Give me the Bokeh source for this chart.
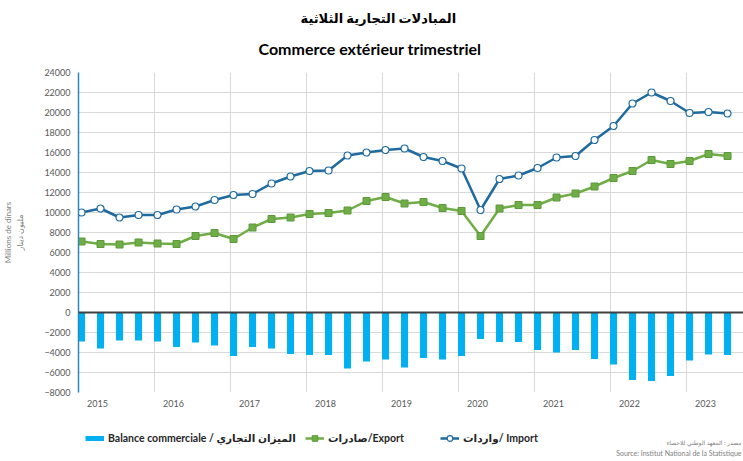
from bokeh.plotting import figure
from bokeh.layouts import column
from bokeh.models import (Range1d, FixedTicker, Legend, LegendItem, Span, Title,
                          Label, ColumnDataSource)
from bokeh.embed import file_html
from bokeh.resources import INLINE

# ---------------- data ----------------
years = ["2015", "2016", "2017", "2018", "2019", "2020", "2021", "2022", "2023"]

imports = [10000, 10400, 9500, 9750, 9750, 10300, 10600, 11250, 11750, 11850,
           12900, 13600, 14150, 14200, 15700, 16000, 16250, 16400, 15550, 15150,
           14400, 10250, 13350, 13700, 14450, 15500, 15650, 17250, 18650, 20900,
           22000, 21150, 19950, 20050, 19900]

exports = [7100, 6850, 6800, 7000, 6900, 6850, 7650, 7950, 7350, 8500,
           9350, 9500, 9850, 9950, 10200, 11150, 11550, 10900, 11050, 10450,
           10150, 7650, 10400, 10750, 10750, 11500, 11900, 12600, 13450, 14150,
           15250, 14850, 15150, 15850, 15650]

balance = [-2900, -3600, -2800, -2800, -2900, -3450, -3000, -3300, -4350, -3450,
           -3600, -4150, -4250, -4250, -5600, -4900, -4700, -5500, -4550, -4700,
           -4350, -2650, -2950, -2950, -3750, -4000, -3750, -4650, -5200, -6750,
           -6850, -6350, -4800, -4200, -4250]

title_ar = "المبادلات التجارية الثلاثية"
title_fr = "Commerce extérieur trimestriel"
lbl_bal = "Balance commerciale / الميزان التجاري"
lbl_exp = "صادرات/Export"
lbl_imp = "واردات/ Import"
ytitle = "Millions de dinars\nمليون دينار"
src_ar = "مصدر : المعهد الوطني للاحصاء"
src_fr = "Source: Institut National de la Statistique"

# ---------------- layout ----------------
W = 743
H_MAIN, H_FOOT = 415, 46
LEFT = 78
FONT = "Lato, 'DejaVu Sans', sans-serif"

C_IMP = "#1F6A9E"
C_EXP = "#70AD47"
C_EXP_EDGE = "#5A9A3A"
C_BAL = "#00B0F0"
C_GRID = "#D9D9D9"
C_TXT = "#595959"

xs = list(range(len(imports)))
src = ColumnDataSource(dict(x=xs, imp=imports, exp=exports, bal=balance))

p = figure(width=W, height=H_MAIN, output_backend="svg", toolbar_location=None,
           x_range=Range1d(-0.16, len(xs) - 0.16), y_range=Range1d(-8000, 24000),
           min_border_left=LEFT, min_border_right=0, min_border_top=72,
           min_border_bottom=H_MAIN - 392)
p.outline_line_color = None
p.background_fill_color = "white"
p.border_fill_color = "white"

# titles (above): first in list is outermost
p.title.text = title_ar
p.title.align = "left"
p.title.offset = 222
p.title.standoff = -6
p.title.text_font = FONT
p.title.text_font_size = "13px"
p.title.text_font_style = "bold"
p.title.text_color = "black"
p.add_layout(Title(text=title_fr, align="left", offset=180, standoff=29,
                   text_font=FONT, text_font_size="16px", text_font_style="bold",
                   text_color="black"), "above")

# axes
year_off = 0.84
p.xaxis.ticker = FixedTicker(ticks=[4 * k + year_off for k in range(len(years))])
p.xaxis.major_label_overrides = {4 * k + year_off: y for k, y in enumerate(years)}
p.xaxis.axis_line_color = None
p.xaxis.major_tick_line_color = None
p.xaxis.minor_tick_line_color = None
p.xaxis.major_tick_out = 0
p.xaxis.major_tick_in = 0
p.xaxis.major_label_standoff = 7
p.xaxis.major_label_text_font = FONT
p.xaxis.major_label_text_font_size = "9px"
p.xaxis.major_label_text_color = C_TXT

p.yaxis.ticker = FixedTicker(ticks=list(range(-8000, 24001, 2000)))
p.yaxis.formatter.use_scientific = False
p.yaxis.axis_line_color = "#2E86C1"
p.yaxis.axis_line_width = 1.5
p.yaxis.major_tick_line_color = None
p.yaxis.minor_tick_line_color = None
p.yaxis.major_tick_out = 0
p.yaxis.major_tick_in = 0
p.yaxis.major_label_standoff = 8
p.yaxis.major_label_text_font = FONT
p.yaxis.major_label_text_font_size = "9px"
p.yaxis.major_label_text_color = C_TXT
p.yaxis.axis_label = ytitle
p.yaxis.axis_label_standoff = 16
p.yaxis.axis_label_text_font = FONT
p.yaxis.axis_label_text_font_size = "8px"
p.yaxis.axis_label_text_font_style = "normal"
p.yaxis.axis_label_text_color = "#7F7F7F"

p.xgrid.ticker = FixedTicker(ticks=[4 * k + year_off + 3 for k in range(len(years) - 1)])
p.xgrid.grid_line_color = C_GRID
p.ygrid.grid_line_color = C_GRID

# glyphs
p.vbar(x="x", top="bal", bottom=0, width=0.37, source=src,
       fill_color=C_BAL, line_color=None)
p.add_layout(Span(location=0, dimension="width", line_color="#404040", line_width=2))
p.line("x", "exp", source=src, line_color=C_EXP, line_width=2.5)
p.scatter("x", "exp", source=src, marker="square", size=7,
          fill_color=C_EXP, line_color=C_EXP_EDGE, line_width=1)
p.line("x", "imp", source=src, line_color=C_IMP, line_width=2.5)
p.scatter("x", "imp", source=src, marker="circle", size=7,
          fill_color="white", line_color=C_IMP, line_width=1.2)

# ---------------- footer: legend + source ----------------
# frame aligned with the chart's frame (x from LEFT to W); series drawn here
# fall outside its (0,1) ranges, so only their legend keys show.
f = figure(width=W, height=H_FOOT, output_backend="svg", toolbar_location=None,
           x_axis_type=None, y_axis_type=None,
           min_border_left=LEFT, min_border_right=0, min_border_top=0,
           min_border_bottom=0,
           x_range=Range1d(0, 1), y_range=Range1d(0, 1))
f.outline_line_color = None
f.grid.visible = False
f.background_fill_color = "white"
f.border_fill_color = "white"

k_bal = f.line("x", "bal", source=src, line_color=C_BAL, line_width=5)
k_exp_l = f.line("x", "exp", source=src, line_color=C_EXP, line_width=2.5)
k_exp_m = f.scatter("x", "exp", source=src, marker="square", size=7,
                    fill_color=C_EXP, line_color=C_EXP_EDGE, line_width=1)
k_imp_l = f.line("x", "imp", source=src, line_color=C_IMP, line_width=2.5)
k_imp_m = f.scatter("x", "imp", source=src, marker="circle", size=7,
                    fill_color="white", line_color=C_IMP, line_width=1.2)

def mk_legend(label, renderers, cx):
    lg = Legend(items=[LegendItem(label=label, renderers=renderers)],
                location=(cx - LEFT, 16), orientation="horizontal",
                padding=0, margin=0, spacing=0, glyph_width=19, glyph_height=14,
                label_height=14, label_standoff=4, border_line_color=None,
                background_fill_alpha=0,
                label_text_font=FONT, label_text_font_size="10.5px",
                label_text_font_style="bold", label_text_color="#262626")
    f.add_layout(lg)

mk_legend(lbl_bal, [k_bal], 85)
mk_legend(lbl_exp, [k_exp_l, k_exp_m], 305)
mk_legend(lbl_imp, [k_imp_l, k_imp_m], 440)

f.add_layout(Label(x=741 - LEFT, y=H_MAIN + H_FOOT - 442, x_units="screen",
                   y_units="screen", text=src_ar, text_align="right",
                   text_baseline="middle", text_font=FONT, text_font_size="6px",
                   text_color="#7F7F7F"))
f.add_layout(Label(x=741 - LEFT, y=H_MAIN + H_FOOT - 452, x_units="screen",
                   y_units="screen", text=src_fr, text_align="right",
                   text_baseline="middle", text_font=FONT, text_font_size="7px",
                   text_color="#7F7F7F"))

layout = column(p, f, spacing=0)
open("out.html", "w").write(file_html(layout, INLINE))
